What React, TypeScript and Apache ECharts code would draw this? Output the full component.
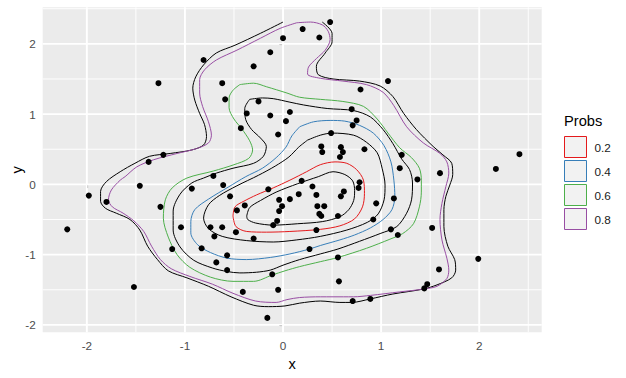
import React, { useEffect, useRef } from 'react';
import * as echarts from 'echarts';

const FONT = '"Liberation Sans", Arial, sans-serif';

// Axis limits and ticks
const xLimits = [-2.45, 2.637];
const yLimits = [-2.105, 2.52];
const xTicks = [-2, -1, 0, 1, 2];
const yTicks = [-2, -1, 0, 1, 2];
const xMinor = [-1.5, -0.5, 0.5, 1.5, 2.5];
const yMinor = [-1.5, -0.5, 0.5, 1.5, 2.5];

// Observations
const pointsX = [
  0.48, 0.20, 0.00, 0.37, -0.13, -0.81, -0.30, -1.27, -0.62, -0.59,
  -0.25, -0.37, -0.13, 0.07, 0.03, -0.43, -0.05, -1.22, -1.37, -0.71,
  -0.61, -1.46, 0.19, 0.30, 1.07, 0.79, 0.70, 0.75, 0.71, 0.49,
  0.39, 0.40, 0.59, 0.61, 0.83, 0.58, 1.21, 1.19, 1.37, 1.60,
  2.17, 2.41, 0.78, 0.77, -1.98, -1.80, -2.20, -1.25, -0.93, -0.54,
  -0.15, -0.04, 0.07, 0.16, 0.34, -0.01, -0.04, -0.47, -0.39, 0.35,
  0.42, 0.37, 0.39, -0.06, -0.10, 0.34, -1.04, -0.74, -0.62, -0.70,
  -0.48, -0.30, -1.13, -0.83, -0.57, -0.68, -0.57, 0.27, -1.52, -0.11,
  -0.05, -0.41, -0.16, 0.62, 0.59, 0.56, 0.95, 1.13, 0.92, 1.10,
  1.17, 1.52, 0.56, 1.99, 1.59, 0.57, 1.47, 1.44, 0.71, 0.89,
];
const pointsY = [
  2.31, 2.21, 2.08, 2.09, 1.88, 1.77, 1.68, 1.44, 1.44, 1.21,
  1.18, 1.01, 0.98, 1.03, 0.90, 0.80, 0.71, 0.42, 0.32, 0.12,
  -0.01, -0.02, 0.05, -0.03, 1.47, 1.35, 1.07, 0.91, 0.84, 0.73,
  0.54, 0.46, 0.53, 0.46, 0.50, 0.39, 0.42, 0.23, 0.07, 0.16,
  0.22, 0.43, 0.03, -0.05, -0.16, -0.25, -0.64, -0.32, -0.06, -0.17,
  -0.07, -0.22, -0.21, -0.14, -0.15, -0.31, -0.38, -0.37, -0.30, -0.31,
  -0.31, -0.42, -0.45, -0.52, -0.58, -0.65, -0.61, -0.61, -0.61, -0.74,
  -0.68, -0.77, -0.92, -0.91, -1.01, -1.11, -1.22, -0.92, -1.46, -1.28,
  -1.50, -1.53, -1.90, -0.10, -0.17, -0.45, -0.27, -0.20, -0.50, -0.64,
  -0.72, -0.62, -1.04, -1.06, -1.21, -1.38, -1.42, -1.48, -1.66, -1.63,
];

// Contour paths (data units)
const outerBlack = [
  [0.00, 2.31], [-0.23, 2.15], [-0.49, 1.98], [-0.68, 1.87], [-0.81, 1.70], [-0.89, 1.53],
  [-0.92, 1.37], [-0.90, 1.20], [-0.85, 1.01], [-0.80, 0.85], [-0.78, 0.68], [-0.81, 0.56],
  [-0.93, 0.49], [-1.15, 0.44], [-1.36, 0.40], [-1.51, 0.30], [-1.66, 0.18], [-1.80, 0.04],
  [-1.86, -0.10], [-1.86, -0.24], [-1.81, -0.34], [-1.70, -0.41], [-1.56, -0.50], [-1.46, -0.65],
  [-1.38, -0.88], [-1.28, -1.07], [-1.17, -1.23], [-0.98, -1.33], [-0.76, -1.45], [-0.53, -1.60],
  [-0.30, -1.72], [-0.15, -1.74], [0.02, -1.73], [0.17, -1.69], [0.38, -1.66], [0.58, -1.68],
  [0.70, -1.68], [0.89, -1.63], [1.12, -1.56], [1.43, -1.49], [1.57, -1.43], [1.72, -1.33],
  [1.76, -1.22], [1.75, -1.07], [1.68, -0.88], [1.64, -0.60], [1.64, -0.36], [1.66, -0.17],
  [1.70, -0.01], [1.73, 0.14], [1.72, 0.30], [1.63, 0.42], [1.53, 0.54], [1.36, 0.78],
  [1.23, 1.01], [1.12, 1.25], [0.99, 1.40], [0.78, 1.47], [0.51, 1.50], [0.36, 1.56],
  [0.34, 1.68], [0.43, 1.87], [0.50, 2.03], [0.50, 2.15], [0.40, 2.31],
];
const contour08 = [
  [0.14, 2.30], [0.28, 2.31], [0.40, 2.27], [0.46, 2.18], [0.48, 2.06], [0.43, 1.91],
  [0.34, 1.79], [0.26, 1.67], [0.25, 1.57], [0.38, 1.51], [0.61, 1.47], [0.85, 1.42],
  [1.02, 1.31], [1.13, 1.12], [1.26, 0.82], [1.43, 0.59], [1.60, 0.44], [1.67, 0.32],
  [1.69, 0.16], [1.66, -0.03], [1.62, -0.27], [1.60, -0.50], [1.62, -0.79], [1.67, -1.05],
  [1.69, -1.22], [1.67, -1.34], [1.57, -1.45], [1.43, -1.49], [1.19, -1.53], [0.89, -1.58],
  [0.72, -1.60], [0.51, -1.60], [0.38, -1.60], [0.17, -1.61], [0.04, -1.64], [-0.07, -1.68],
  [-0.28, -1.66], [-0.51, -1.55], [-0.72, -1.42], [-0.95, -1.31], [-1.14, -1.20], [-1.25, -1.07],
  [-1.34, -0.88], [-1.42, -0.67], [-1.52, -0.52], [-1.63, -0.41], [-1.74, -0.32], [-1.78, -0.22],
  [-1.75, -0.08], [-1.66, 0.06], [-1.61, 0.11], [-1.49, 0.25], [-1.32, 0.35], [-1.08, 0.44],
  [-0.88, 0.51], [-0.76, 0.59], [-0.73, 0.70], [-0.76, 0.89], [-0.82, 1.11], [-0.85, 1.30],
  [-0.85, 1.49], [-0.80, 1.63], [-0.68, 1.77], [-0.47, 1.91], [-0.23, 2.08], [-0.03, 2.22],
];
const contour06 = [
  [-0.44, 1.42], [-0.30, 1.44], [-0.17, 1.39], [0.04, 1.30], [0.17, 1.24], [0.38, 1.21],
  [0.61, 1.18], [0.82, 1.11], [0.96, 0.93], [1.07, 0.73], [1.19, 0.52], [1.31, 0.38],
  [1.39, 0.23], [1.41, 0.06], [1.41, -0.11], [1.39, -0.32], [1.33, -0.56], [1.22, -0.70],
  [1.09, -0.78], [0.85, -0.91], [0.56, -1.04], [0.38, -1.10], [0.17, -1.17], [0.02, -1.23],
  [-0.11, -1.29], [-0.30, -1.38], [-0.51, -1.38], [-0.74, -1.32], [-0.95, -1.18], [-1.08, -1.00],
  [-1.17, -0.75], [-1.22, -0.48], [-1.20, -0.22], [-1.13, -0.05], [-0.98, 0.09], [-0.71, 0.19],
  [-0.50, 0.28], [-0.35, 0.37], [-0.31, 0.49], [-0.34, 0.62], [-0.42, 0.79], [-0.50, 0.93],
  [-0.55, 1.09], [-0.55, 1.23], [-0.51, 1.34],
];
const midBlackOuter = [
  [-0.34, 1.21], [-0.21, 1.23], [-0.10, 1.22], [0.07, 1.17], [0.21, 1.13], [0.45, 1.08],
  [0.72, 1.05], [0.89, 0.96], [1.02, 0.78], [1.12, 0.58], [1.21, 0.36], [1.29, 0.21],
  [1.32, 0.02], [1.31, -0.22], [1.26, -0.41], [1.16, -0.60], [0.99, -0.70], [0.78, -0.81],
  [0.56, -0.92], [0.38, -0.99], [0.17, -1.07], [0.00, -1.15], [-0.13, -1.22], [-0.27, -1.25],
  [-0.44, -1.26], [-0.57, -1.24], [-0.72, -1.19], [-0.91, -1.08], [-1.05, -0.89], [-1.12, -0.65],
  [-1.12, -0.38], [-1.05, -0.14], [-0.93, 0.02], [-0.81, 0.09], [-0.68, 0.16], [-0.51, 0.23],
  [-0.30, 0.30], [-0.20, 0.40], [-0.17, 0.54], [-0.23, 0.66], [-0.32, 0.78], [-0.38, 0.92],
  [-0.39, 1.08],
];
const contour04 = [
  [0.17, 0.82], [0.31, 0.89], [0.48, 0.91], [0.63, 0.90], [0.78, 0.84], [0.92, 0.73],
  [1.03, 0.55], [1.10, 0.32], [1.13, 0.06], [1.14, -0.17], [1.11, -0.36], [1.02, -0.50],
  [0.89, -0.62], [0.73, -0.72], [0.58, -0.79], [0.38, -0.87], [0.27, -0.92], [0.07, -0.99],
  [-0.13, -1.04], [-0.37, -1.07], [-0.57, -1.05], [-0.74, -0.97], [-0.87, -0.86], [-0.94, -0.69],
  [-0.94, -0.53], [-0.90, -0.36], [-0.76, -0.21], [-0.56, -0.04], [-0.38, 0.11], [-0.21, 0.23],
  [-0.07, 0.38], [0.03, 0.53], [0.09, 0.69],
];
const midBlackInner = [
  [0.25, 0.63], [0.38, 0.70], [0.50, 0.73], [0.72, 0.70], [0.85, 0.60], [0.96, 0.45],
  [1.01, 0.23], [1.04, -0.01], [1.03, -0.22], [0.97, -0.42], [0.86, -0.54], [0.65, -0.65],
  [0.38, -0.74], [0.14, -0.79], [-0.10, -0.82], [-0.37, -0.80], [-0.62, -0.74], [-0.76, -0.63],
  [-0.81, -0.48], [-0.76, -0.29], [-0.65, -0.16], [-0.47, -0.02], [-0.25, 0.13], [-0.08, 0.26],
  [0.06, 0.39], [0.16, 0.53],
];
const contour02 = [
  [-0.51, -0.45], [-0.49, -0.32], [-0.40, -0.24], [-0.27, -0.15], [-0.10, -0.05], [0.07, 0.06],
  [0.24, 0.18], [0.38, 0.28], [0.53, 0.32], [0.65, 0.30], [0.75, 0.21], [0.82, 0.06],
  [0.83, -0.13], [0.81, -0.32], [0.73, -0.49], [0.58, -0.59], [0.38, -0.64], [0.07, -0.67],
  [-0.17, -0.68], [-0.37, -0.67], [-0.48, -0.60],
];
const innerBlack = [
  [-0.37, -0.45], [-0.34, -0.33], [-0.23, -0.23], [-0.07, -0.11], [0.15, 0.01], [0.36, 0.11],
  [0.51, 0.18], [0.63, 0.14], [0.71, 0.05], [0.73, -0.09], [0.72, -0.23], [0.67, -0.36],
  [0.58, -0.46], [0.40, -0.53], [0.15, -0.56], [-0.10, -0.58], [-0.28, -0.55], [-0.36, -0.50],
];

const probLevels = ['0.2', '0.4', '0.6', '0.8'];
const probColors = ['#E41A1C', '#377EB8', '#4DAF4A', '#984EA3'];

const closeRing = (pts: number[][]) => [...pts, pts[0]];

export default function App() {
  const ref = useRef<HTMLDivElement>(null);

  useEffect(() => {
    if (!ref.current) return;
    const chart = echarts.init(ref.current, undefined, { renderer: 'svg' });

    const gridSeries: any[] = [];
    const addGrid = (vals: number[], vertical: boolean, width: number) => {
      vals.forEach((v) => {
        gridSeries.push({
          type: 'line',
          data: vertical
            ? [[v, yLimits[0]], [v, yLimits[1]]]
            : [[xLimits[0], v], [xLimits[1], v]],
          symbol: 'none',
          silent: true,
          z: 1,
          lineStyle: { color: '#FFFFFF', width },
        });
      });
    };
    addGrid(xMinor, true, 0.95);
    addGrid(yMinor, false, 0.95);
    addGrid(xTicks, true, 1.9);
    addGrid(yTicks, false, 1.9);

    const contourLine = (name: string, pts: number[][], color: string, closed = true) => ({
      name,
      type: 'line',
      data: closed ? closeRing(pts) : pts,
      symbol: 'none',
      smooth: 0.3,
      silent: true,
      z: 3,
      lineStyle: { color, width: 1 },
    });

    const series: any[] = [
      ...gridSeries,
      contourLine('outer', outerBlack, '#000000', false),
      contourLine('0.8', contour08, probColors[3]),
      contourLine('0.6', contour06, probColors[2]),
      contourLine('midOuter', midBlackOuter, '#000000'),
      contourLine('0.4', contour04, probColors[1]),
      contourLine('midInner', midBlackInner, '#000000'),
      contourLine('0.2', contour02, probColors[0]),
      contourLine('inner', innerBlack, '#000000'),
      {
        name: 'points',
        type: 'scatter',
        data: pointsX.map((x, i) => [x, pointsY[i]]),
        symbolSize: 6,
        itemStyle: { color: '#000000', opacity: 1 },
        silent: true,
        z: 4,
      },
    ];

    chart.setOption({
      animation: false,
      backgroundColor: '#FFFFFF',
      title: {
        text: 'Probs',
        left: 564,
        top: 113,
        padding: 0,
        textStyle: { fontFamily: FONT, fontSize: 14.67, fontWeight: 'normal', color: '#000000' },
      },
      legend: {
        orient: 'vertical',
        left: 564,
        top: 136,
        padding: 0,
        itemWidth: 22,
        itemHeight: 21,
        itemGap: 2,
        selectedMode: false,
        textStyle: { fontFamily: FONT, fontSize: 11.73, color: '#1A1A1A', padding: [0, 0, 0, 3] },
        data: probLevels.map((p, i) => ({
          name: p,
          icon: 'rect',
          itemStyle: { color: '#F2F2F2', borderColor: probColors[i], borderWidth: 1 },
        })),
      },
      grid: {
        left: 42.7,
        right: 84.3,
        top: 7.3,
        bottom: 45.7,
        show: true,
        backgroundColor: '#EBEBEB',
        borderWidth: 0,
        containLabel: false,
        outerBoundsMode: 'none',
      },
      xAxis: {
        type: 'value',
        min: xLimits[0],
        max: xLimits[1],
        name: 'x',
        nameLocation: 'middle',
        nameGap: 24,
        nameMoveOverlap: false,
        nameTextStyle: { fontFamily: FONT, fontSize: 14.67, color: '#000000' },
        axisLine: { show: false },
        axisTick: { show: true, customValues: xTicks, length: 3.7, lineStyle: { color: '#333333', width: 1.07 } },
        axisLabel: { customValues: xTicks, fontFamily: FONT, fontSize: 11.73, color: '#4D4D4D', margin: 7 },
        splitLine: { show: false },
      },
      yAxis: {
        type: 'value',
        min: yLimits[0],
        max: yLimits[1],
        name: 'y',
        nameLocation: 'middle',
        nameGap: 18,
        nameMoveOverlap: false,
        nameTextStyle: { fontFamily: FONT, fontSize: 14.67, color: '#000000' },
        axisLine: { show: false },
        axisTick: { show: true, customValues: yTicks, length: 3.7, lineStyle: { color: '#333333', width: 1.07 } },
        axisLabel: { customValues: yTicks, fontFamily: FONT, fontSize: 11.73, color: '#4D4D4D', margin: 7 },
        splitLine: { show: false },
      },
      series,
    });

    return () => chart.dispose();
  }, []);

  return (
    <div
      ref={ref}
      style={{ position: 'fixed', left: 0, top: 0, width: 626, height: 378, background: '#FFFFFF' }}
    />
  );
}
